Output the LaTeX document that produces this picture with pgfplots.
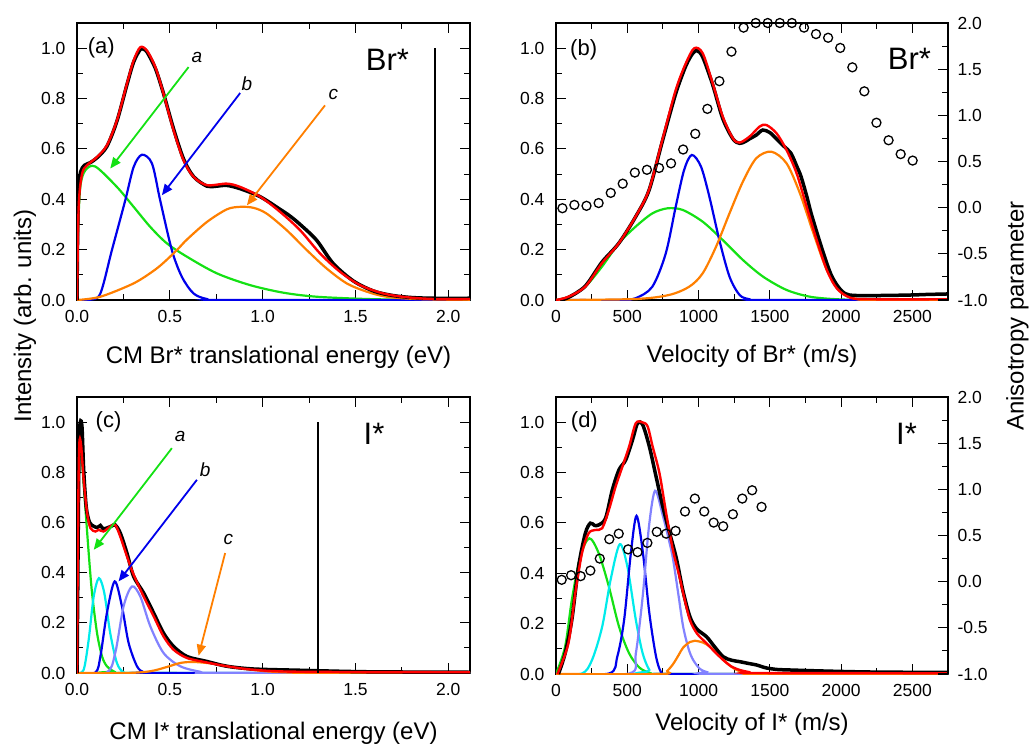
\documentclass[border=0pt]{standalone}
\usepackage{fontspec}
\setmainfont{Liberation Sans}
\usepackage{pgfplots}
\pgfplotsset{compat=1.18}
\usetikzlibrary{arrows.meta}
\definecolor{cgreen}{RGB}{20,225,20}
\definecolor{cblue}{RGB}{0,0,235}
\definecolor{corange}{RGB}{255,127,0}
\definecolor{cred}{RGB}{255,0,0}
\definecolor{ccyan}{RGB}{0,235,235}
\definecolor{clight}{RGB}{130,130,255}
\tikzset{arr/.style={line width=1.8pt, -{Triangle[length=11pt,width=9pt]}}}
\newcommand{\labfont}{\fontsize{24}{28}\selectfont}
\pgfplotsset{
  myaxis/.style={
    scale only axis,
    anchor=south west,
    tick align=inside,
    major tick length=10pt,
    minor tick length=6pt,
    every tick/.style={black, line width=1.1pt},
    axis line style={line width=1.3pt, black},
    tick label style={font=\fontsize{17.5}{20}\selectfont},
    /pgf/number format/assume math mode=true,
    clip marker paths=false,
  },
  comp/.style={smooth, line width=2.2pt},
  dat/.style={smooth, line width=3.5pt, black},
  fit/.style={smooth, line width=2.4pt, cred},
  onedec/.style={/pgf/number format/fixed, /pgf/number format/fixed zerofill, /pgf/number format/precision=1},
}
\newcommand{\tagfont}{\fontsize{22}{24}\selectfont}
\newcommand{\bigfont}{\fontsize{31}{34}\selectfont}
\newcommand{\letfont}{\fontsize{19}{22}\selectfont\itshape}
\begin{document}
\begin{tikzpicture}
% ---------------- (a) ----------------
\begin{axis}[myaxis, at={(77pt,-300pt)}, width=393pt, height=277pt,
  xmin=0, xmax=2.117, ymin=0, ymax=1.1,
  xtick={0,0.5,1,1.5,2}, minor x tick num=1,
  ytick={0,0.2,0.4,0.6,0.8,1.0}, minor y tick num=1,
  xticklabel style={onedec, yshift=-7pt},
  yticklabel style={onedec, xshift=-8pt},
  xlabel={CM Br* translational energy (eV)},
  xlabel style={font=\labfont, at={(axis description cs:0.5,0)}, anchor=base, yshift=-63pt, xshift=5pt},
]
\addplot[comp, cgreen] coordinates {(0,0) (0.005,0.26) (0.018,0.45) (0.045,0.515) (0.099,0.53) (0.215,0.449) (0.305,0.37) (0.395,0.29) (0.484,0.225) (0.592,0.172) (0.753,0.106) (0.933,0.059) (1.112,0.029) (1.291,0.013) (1.56,0.004) (1.8,0.001) (2.117,0)};
\addplot[comp, cblue] coordinates {(0,0) (0.07,0.001) (0.126,0.026) (0.188,0.198) (0.26,0.396) (0.305,0.528) (0.35,0.577) (0.404,0.542) (0.448,0.396) (0.511,0.198) (0.565,0.092) (0.628,0.026) (0.7,0.004) (0.8,0) (2.117,0)};
\addplot[comp, corange] coordinates {(0,0) (0.126,0.013) (0.305,0.066) (0.42,0.12) (0.484,0.16) (0.547,0.205) (0.592,0.24) (0.70,0.31) (0.807,0.36) (0.879,0.37) (0.951,0.366) (1.022,0.343) (1.13,0.277) (1.238,0.198) (1.345,0.125) (1.453,0.066) (1.561,0.033) (1.668,0.013) (1.83,0.004) (2.117,0)};
\addplot[dat] coordinates {(0,0) (0.004,0.3) (0.01,0.45) (0.02,0.51) (0.04,0.535) (0.07,0.545) (0.108,0.565) (0.161,0.61) (0.215,0.71) (0.269,0.855) (0.305,0.945) (0.341,0.995) (0.36,0.995) (0.377,0.985) (0.422,0.92) (0.466,0.82) (0.52,0.68) (0.574,0.56) (0.628,0.49) (0.70,0.452) (0.75,0.452) (0.807,0.455) (0.879,0.442) (0.987,0.41) (1.094,0.36) (1.148,0.333) (1.202,0.30) (1.29,0.238) (1.38,0.145) (1.49,0.075) (1.6,0.035) (1.7,0.018) (1.8,0.01) (1.92,0.007) (2.117,0.007)};
\addplot[fit] coordinates {(0,0) (0.009,0.37) (0.027,0.50) (0.054,0.535) (0.108,0.568) (0.161,0.614) (0.215,0.713) (0.269,0.859) (0.305,0.951) (0.341,1.004) (0.377,0.99) (0.422,0.925) (0.466,0.819) (0.52,0.674) (0.574,0.555) (0.628,0.489) (0.70,0.456) (0.807,0.462) (0.879,0.449) (0.987,0.41) (1.094,0.35) (1.202,0.277) (1.309,0.185) (1.417,0.112) (1.525,0.059) (1.65,0.026) (1.776,0.011) (1.92,0.004) (2.117,0.004)};
\addplot[black, line width=2pt] coordinates {(1.928,0) (1.928,1.0)};
\draw[arr, cgreen] (axis cs:0.601,0.925) -- (axis cs:0.179,0.522);
\draw[arr, cblue] (axis cs:0.879,0.822) -- (axis cs:0.457,0.416);
\draw[arr, corange] (axis cs:1.336,0.773) -- (axis cs:0.915,0.376);
\node[font=\letfont] at (axis cs:0.646,0.962) {a};
\node[font=\letfont] at (axis cs:0.915,0.859) {b};
\node[font=\letfont] at (axis cs:1.381,0.815) {c};
\node[font=\tagfont] at (axis cs:0.131,1.0) {(a)};
\node[font=\bigfont, anchor=base] at (axis cs:1.672,0.911) {Br*};
\end{axis}
% ---------------- (b) ----------------
\begin{axis}[myaxis, at={(556pt,-300pt)}, width=392pt, height=277pt,
  xmin=0, xmax=2750, ymin=0, ymax=1.1,
  xtick={0,500,1000,1500,2000,2500}, minor x tick num=1,
  ytick={0,0.2,0.4,0.6,0.8,1.0}, minor y tick num=1, ytick pos=left,
  xticklabel style={/pgf/number format/set thousands separator={}, yshift=-7pt},
  yticklabel style={onedec, xshift=-8pt},
  xlabel={Velocity of Br* (m/s)},
  xlabel style={font=\labfont, at={(axis description cs:0.5,0)}, anchor=base, yshift=-62pt},
]
\addplot[comp, cgreen] coordinates {(0,0) (87,0.012) (205,0.053) (322,0.132) (440,0.225) (558,0.291) (676,0.344) (781,0.364) (887,0.358) (1029,0.311) (1170,0.238) (1311,0.159) (1452,0.093) (1617,0.04) (1782,0.013) (1970,0.003) (2200,0) (2750,0)};
\addplot[comp, cblue] coordinates {(0,0) (450,0) (558,0.007) (676,0.053) (770,0.185) (840,0.371) (899,0.517) (953,0.576) (1017,0.53) (1076,0.41) (1146,0.238) (1217,0.093) (1288,0.02) (1358,0.003) (1450,0) (2750,0)};
\addplot[comp, corange] coordinates {(0,0) (558,0.004) (793,0.02) (935,0.053) (1029,0.106) (1123,0.212) (1217,0.344) (1311,0.47) (1405,0.563) (1511,0.589) (1617,0.543) (1711,0.424) (1806,0.265) (1900,0.119) (1994,0.033) (2088,0.007) (2200,0) (2750,0)};
\addplot[dat] coordinates {(28,0) (87,0.01) (205,0.055) (322,0.15) (440,0.225) (558,0.33) (652,0.435) (746,0.63) (840,0.82) (911,0.93) (960,0.98) (990,0.99) (1029,0.965) (1099,0.855) (1170,0.72) (1241,0.64) (1288,0.622) (1330,0.63) (1358,0.64) (1405,0.655) (1450,0.675) (1500,0.665) (1547,0.64) (1600,0.61) (1648,0.583) (1690,0.53) (1719,0.49) (1760,0.41) (1790,0.344) (1840,0.25) (1884,0.172) (1930,0.1) (1979,0.053) (2030,0.025) (2100,0.018) (2300,0.018) (2500,0.02) (2600,0.022) (2750,0.024)};
\addplot[fit] coordinates {(0,0) (87,0.013) (205,0.053) (322,0.146) (440,0.225) (558,0.331) (652,0.437) (746,0.636) (840,0.834) (911,0.94) (970,1.0) (1029,0.98) (1099,0.861) (1170,0.728) (1241,0.642) (1288,0.625) (1358,0.649) (1429,0.689) (1476,0.695) (1547,0.662) (1617,0.596) (1688,0.503) (1758,0.371) (1829,0.238) (1900,0.119) (1970,0.046) (2065,0.009) (2206,0.003) (2750,0.003)};
\node[font=\tagfont] at (axis cs:194,0.993) {(b)};
\node[font=\bigfont, anchor=base] at (axis cs:2480,0.914) {Br*};
\end{axis}
\begin{axis}[myaxis, at={(556pt,-300pt)}, width=392pt, height=277pt,
  xmin=0, xmax=2750, ymin=-1, ymax=2,
  axis x line=none, axis y line*=right,
  ytick={-1,-0.5,0,0.5,1,1.5,2}, minor y tick num=1,
  yticklabel style={onedec, xshift=6pt},
]
\addplot[only marks, mark=o, mark size=4.5pt, line width=1.3pt, black] coordinates {(45,-0.006) (129,0.03) (214,0.02) (299,0.05) (384,0.16) (468,0.26) (553,0.38) (638,0.41) (723,0.43) (807,0.48) (892,0.63) (977,0.80) (1062,1.07) (1146,1.37) (1231,1.69) (1316,1.95) (1401,2.0) (1485,2.0) (1570,2.0) (1655,2.0) (1740,1.95) (1824,1.88) (1909,1.84) (1994,1.73) (2079,1.52) (2163,1.26) (2248,0.92) (2333,0.73) (2418,0.58) (2502,0.51)};
\end{axis}
% ---------------- (c) ----------------
\begin{axis}[myaxis, at={(77pt,-673pt)}, width=393pt, height=276pt,
  xmin=0, xmax=2.117, ymin=0, ymax=1.1,
  xtick={0,0.5,1,1.5,2}, minor x tick num=1,
  ytick={0,0.2,0.4,0.6,0.8,1.0}, minor y tick num=1,
  xticklabel style={onedec, yshift=-7pt},
  yticklabel style={onedec, xshift=-8pt},
  xlabel={CM I* translational energy (eV)},
  xlabel style={font=\labfont, at={(axis description cs:0.5,0)}, anchor=base, yshift=-66pt},
]
\addplot[comp, cgreen] coordinates {(0,0) (0.004,0.45) (0.009,0.77) (0.014,0.93) (0.027,0.84) (0.045,0.66) (0.063,0.478) (0.081,0.319) (0.108,0.159) (0.135,0.066) (0.161,0.027) (0.197,0.007) (0.251,0) (2.117,0)};
\addplot[comp, ccyan] coordinates {(0,0) (0.036,0.013) (0.063,0.133) (0.09,0.305) (0.118,0.378) (0.147,0.319) (0.179,0.159) (0.215,0.04) (0.251,0.003) (0.3,0) (2.117,0)};
\addplot[comp, cblue] coordinates {(0,0) (0.099,0.002) (0.126,0.066) (0.161,0.239) (0.203,0.365) (0.242,0.266) (0.278,0.12) (0.323,0.027) (0.359,0.003) (0.4,0) (2.117,0)};
\addplot[comp, clight] coordinates {(0,0) (0.161,0.002) (0.206,0.08) (0.251,0.266) (0.296,0.345) (0.341,0.305) (0.395,0.186) (0.466,0.08) (0.556,0.027) (0.664,0.005) (0.75,0) (2.117,0)};
\addplot[comp, corange] coordinates {(0,0) (0.269,0) (0.395,0.007) (0.484,0.024) (0.556,0.04) (0.628,0.044) (0.735,0.037) (0.843,0.024) (0.987,0.009) (1.11,0.003) (1.3,0) (2.117,0)};
\addplot[dat] coordinates {(0,0) (0.003,0.24) (0.011,0.9) (0.018,1.0) (0.027,0.98) (0.036,0.81) (0.05,0.66) (0.068,0.6) (0.09,0.585) (0.11,0.58) (0.126,0.588) (0.14,0.575) (0.161,0.578) (0.185,0.585) (0.206,0.59) (0.233,0.558) (0.269,0.478) (0.305,0.385) (0.359,0.319) (0.413,0.239) (0.466,0.159) (0.52,0.106) (0.592,0.066) (0.7,0.046) (0.807,0.027) (0.951,0.016) (1.2,0.011) (1.56,0.005) (2.117,0.003)};
\addplot[fit] coordinates {(0,0) (0.004,0.45) (0.009,0.8) (0.014,0.93) (0.023,0.90) (0.036,0.77) (0.054,0.64) (0.072,0.578) (0.099,0.564) (0.117,0.571) (0.143,0.564) (0.179,0.584) (0.206,0.59) (0.233,0.544) (0.269,0.465) (0.305,0.392) (0.359,0.305) (0.413,0.226) (0.466,0.146) (0.52,0.093) (0.592,0.06) (0.7,0.042) (0.807,0.027) (0.951,0.013) (1.2,0.005) (2.117,0.003)};
\addplot[black, line width=2pt] coordinates {(1.30,0) (1.30,1.0)};
\draw[arr, cgreen] (axis cs:0.511,0.896) -- (axis cs:0.09,0.491);
\draw[arr, cblue] (axis cs:0.646,0.77) -- (axis cs:0.224,0.365);
\draw[arr, corange] (axis cs:0.798,0.478) -- (axis cs:0.655,0.069);
\node[font=\letfont] at (axis cs:0.556,0.943) {a};
\node[font=\letfont] at (axis cs:0.69,0.81) {b};
\node[font=\letfont] at (axis cs:0.816,0.531) {c};
\node[font=\tagfont] at (axis cs:0.17,1.0) {(c)};
\node[font=\bigfont, anchor=base] at (axis cs:1.6,0.91) {I*};
\end{axis}
% ---------------- (d) ----------------
\begin{axis}[myaxis, at={(556pt,-674pt)}, width=392pt, height=277pt,
  xmin=0, xmax=2750, ymin=0, ymax=1.1,
  xtick={0,500,1000,1500,2000,2500}, minor x tick num=1,
  ytick={0,0.2,0.4,0.6,0.8,1.0}, minor y tick num=1, ytick pos=left,
  xticklabel style={/pgf/number format/set thousands separator={}, yshift=-7pt},
  yticklabel style={onedec, xshift=-8pt},
  xlabel={Velocity of I* (m/s)},
  xlabel style={font=\labfont, at={(axis description cs:0.5,0)}, anchor=base, yshift=-56pt},
]
\addplot[comp, cgreen] coordinates {(0,0) (64,0.109) (111,0.294) (170,0.466) (234,0.539) (300,0.479) (371,0.347) (442,0.188) (513,0.082) (584,0.026) (655,0.005) (720,0) (2750,0)};
\addplot[comp, ccyan] coordinates {(0,0) (182,0.002) (253,0.056) (324,0.188) (383,0.374) (447,0.515) (501,0.426) (560,0.215) (608,0.082) (655,0.016) (702,0) (2750,0)};
\addplot[comp, cblue] coordinates {(0,0) (371,0.002) (430,0.069) (478,0.215) (525,0.479) (565,0.628) (610,0.48) (655,0.241) (702,0.069) (741,0.004) (800,0) (2750,0)};
\addplot[comp, clight] coordinates {(0,0) (513,0.002) (560,0.082) (608,0.307) (652,0.585) (695,0.728) (749,0.63) (797,0.52) (822,0.453) (860,0.31) (892,0.188) (930,0.1) (962,0.056) (1010,0.02) (1056,0.008) (1110,0) (2750,0)};
\addplot[comp, corange] coordinates {(0,0) (741,0) (780,0.012) (822,0.04) (860,0.075) (892,0.105) (939,0.127) (974,0.132) (1030,0.125) (1079,0.109) (1135,0.08) (1196,0.045) (1254,0.02) (1324,0.005) (1430,0) (2750,0)};
\addplot[dat] coordinates {(17,0) (64,0.082) (111,0.215) (158,0.426) (206,0.559) (241,0.599) (270,0.59) (300,0.592) (348,0.619) (395,0.731) (442,0.811) (489,0.85) (537,0.93) (572,0.996) (608,0.99) (655,0.903) (702,0.784) (749,0.665) (797,0.56) (844,0.46) (891,0.33) (939,0.228) (986,0.18) (1056,0.148) (1110,0.11) (1172,0.069) (1230,0.055) (1289,0.049) (1350,0.042) (1406,0.036) (1440,0.03) (1476,0.024) (1550,0.018) (1640,0.016) (1750,0.014) (1871,0.012) (2200,0.008) (2750,0.006)};
\addplot[fit] coordinates {(10,0) (87,0.122) (135,0.32) (182,0.479) (229,0.559) (277,0.572) (324,0.579) (371,0.652) (418,0.744) (466,0.824) (513,0.903) (560,0.996) (608,0.999) (643,0.983) (678,0.903) (726,0.797) (773,0.638) (820,0.493) (867,0.385) (892,0.321) (939,0.215) (990,0.16) (1056,0.122) (1110,0.09) (1172,0.056) (1230,0.03) (1289,0.016) (1350,0.008) (1406,0.004) (2750,0.003)};
\node[font=\tagfont] at (axis cs:199,1.003) {(d)};
\node[font=\bigfont, anchor=base] at (axis cs:2459,0.91) {I*};
\end{axis}
\begin{axis}[myaxis, at={(556pt,-674pt)}, width=392pt, height=277pt,
  xmin=0, xmax=2750, ymin=-1, ymax=2,
  axis x line=none, axis y line*=right,
  ytick={-1,-0.5,0,0.5,1,1.5,2}, minor y tick num=1,
  yticklabel style={onedec, xshift=6pt},
]
\addplot[only marks, mark=o, mark size=4.5pt, line width=1.3pt, black] coordinates {(40,0.02) (106,0.07) (173,0.06) (241,0.12) (307,0.25) (374,0.46) (440,0.52) (506,0.35) (572,0.32) (641,0.42) (707,0.54) (773,0.52) (839,0.55) (905,0.76) (974,0.90) (1040,0.76) (1106,0.64) (1173,0.60) (1241,0.73) (1307,0.90) (1376,0.99) (1442,0.81)};
\end{axis}
\node[rotate=90, anchor=base, font=\labfont] at (31pt,-316pt) {Intensity (arb. units)};
\node[rotate=90, anchor=base, font=\labfont] at (1023.5pt,-316pt) {Anisotropy parameter};
\pgfresetboundingbox
\useasboundingbox (0pt,0pt) rectangle (1029pt,-747pt);
\end{tikzpicture}
\end{document}
